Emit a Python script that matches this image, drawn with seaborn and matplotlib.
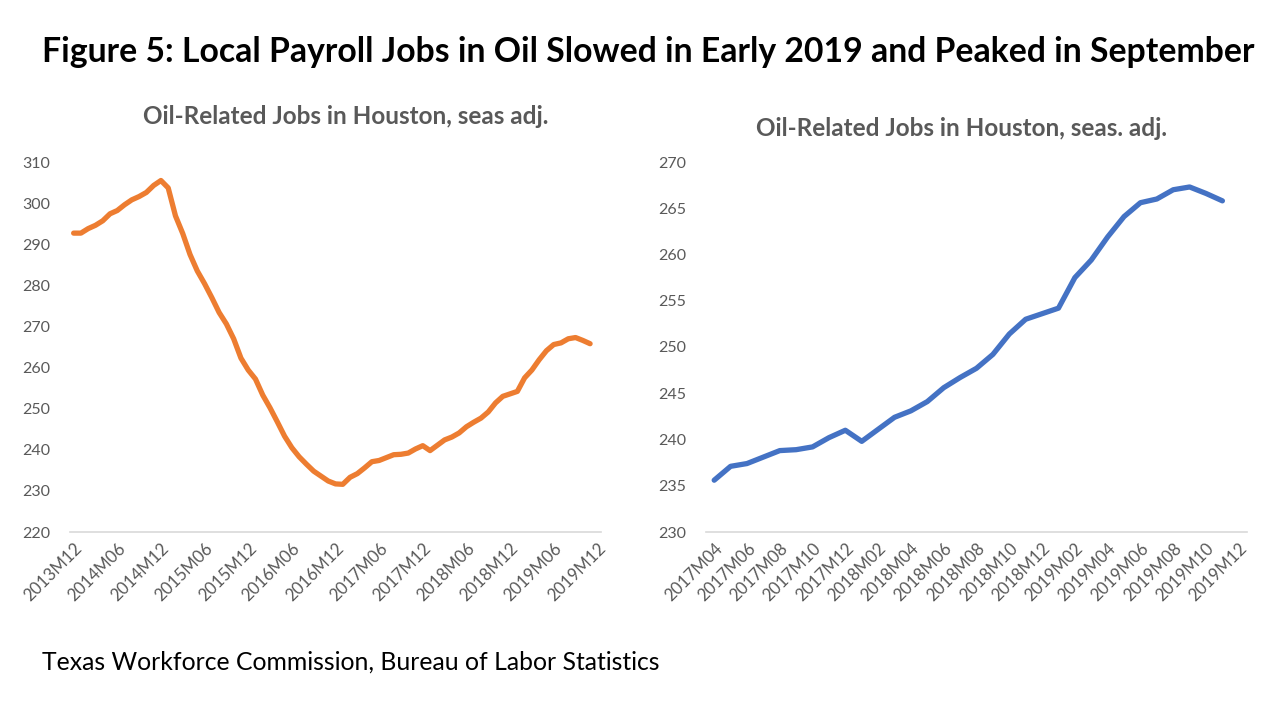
import matplotlib
matplotlib.use("Agg")
import matplotlib.pyplot as plt
import seaborn as sns
import pandas as pd

# Oil-related jobs in Houston (thousands, seas. adj.)
# 2013M12 .. 2017M03
jobs_early = [292.7, 292.7, 293.8, 294.6, 295.7, 297.4, 298.2, 299.6, 300.8, 301.6,
              302.6, 304.3, 305.5, 303.7, 296.9, 292.6, 287.5, 283.5, 280.4, 277.0,
              273.4, 270.6, 267.0, 262.3, 259.4, 257.2, 253.3, 250.2, 246.8, 243.3,
              240.5, 238.3, 236.5, 234.8, 233.6, 232.4, 231.7, 231.6, 233.3, 234.2]
# 2017M04 .. 2019M11
jobs_recent = [235.6, 237.1, 237.4, 238.1, 238.8, 238.9, 239.2, 240.2, 241.0, 239.8,
               241.1, 242.4, 243.1, 244.1, 245.6, 246.7, 247.7, 249.2, 251.4, 253.0,
               253.6, 254.2, 257.5, 259.4, 261.9, 264.1, 265.6, 266.0, 267.0, 267.3,
               266.6, 265.8]

# category axes (last month on each axis has no value)
months_long = pd.period_range("2013-12", "2019-12", freq="M").strftime("%YM%m").tolist()
months_short = pd.period_range("2017-04", "2019-12", freq="M").strftime("%YM%m").tolist()

title = "Figure 5: Local Payroll Jobs in Oil Slowed in Early 2019 and Peaked in September"
left_title = "Oil-Related Jobs in Houston, seas adj."
right_title = "Oil-Related Jobs in Houston, seas. adj."
source = "Texas Workforce Commission, Bureau of Labor Statistics"

left_df = pd.DataFrame({"idx": range(len(jobs_early) + len(jobs_recent)),
                        "jobs": jobs_early + jobs_recent})
right_df = pd.DataFrame({"idx": range(len(jobs_recent)), "jobs": jobs_recent})

sns.set_style("white")
plt.rcParams["font.family"] = ["Lato", "DejaVu Sans"]

W, H = 1280, 719
fig = plt.figure(figsize=(W / 100, H / 100), dpi=100)


def px_axes(x0, x1, y0, y1):
    return fig.add_axes([x0 / W, 1 - y1 / H, (x1 - x0) / W, (y1 - y0) / H])


grey = "#595959"


def style_axis(ax, labels, step, ylim, ystep):
    ax.set_xlim(-0.5, len(labels) - 0.5)
    ax.set_ylim(*ylim)
    ax.set_yticks(range(ylim[0], ylim[1] + 1, ystep))
    ticks = list(range(0, len(labels), step))
    ax.set_xticks(ticks)
    ax.set_xticklabels([labels[t] for t in ticks], rotation=45, ha="right", va="top",
                       rotation_mode="anchor", fontsize=12.2, color=grey)
    ax.tick_params(axis="y", labelsize=11.5, labelcolor=grey, length=0, pad=14)
    ax.tick_params(axis="x", length=0, pad=6)
    for s in ["top", "right", "left"]:
        ax.spines[s].set_visible(False)
    ax.spines["bottom"].set_color("#d9d9d9")
    ax.spines["bottom"].set_linewidth(1.2)
    ax.set_xlabel("")
    ax.set_ylabel("")


ax1 = px_axes(70, 601, 162, 532)
sns.lineplot(data=left_df, x="idx", y="jobs", ax=ax1, color="#ED7D31", linewidth=3.8)
style_axis(ax1, months_long, 6, (220, 310), 10)

ax2 = px_axes(706, 1247, 162, 532)
sns.lineplot(data=right_df, x="idx", y="jobs", ax=ax2, color="#4472C4", linewidth=3.8)
style_axis(ax2, months_short, 2, (230, 270), 5)

fig.text(648 / W, 1 - 52 / H, title, ha="center", va="center", fontsize=24.3,
         fontweight="bold", color="black")
fig.text(346 / W, 1 - 117 / H, left_title, ha="center", va="center", fontsize=17.5,
         fontweight="bold", color=grey)
fig.text(962 / W, 1 - 128 / H, right_title, ha="center", va="center", fontsize=17.5,
         fontweight="bold", color=grey)
fig.text(42 / W, 1 - 662 / H, source, ha="left", va="center", fontsize=17.8, color="black")

fig.savefig("out.png", dpi=100)
